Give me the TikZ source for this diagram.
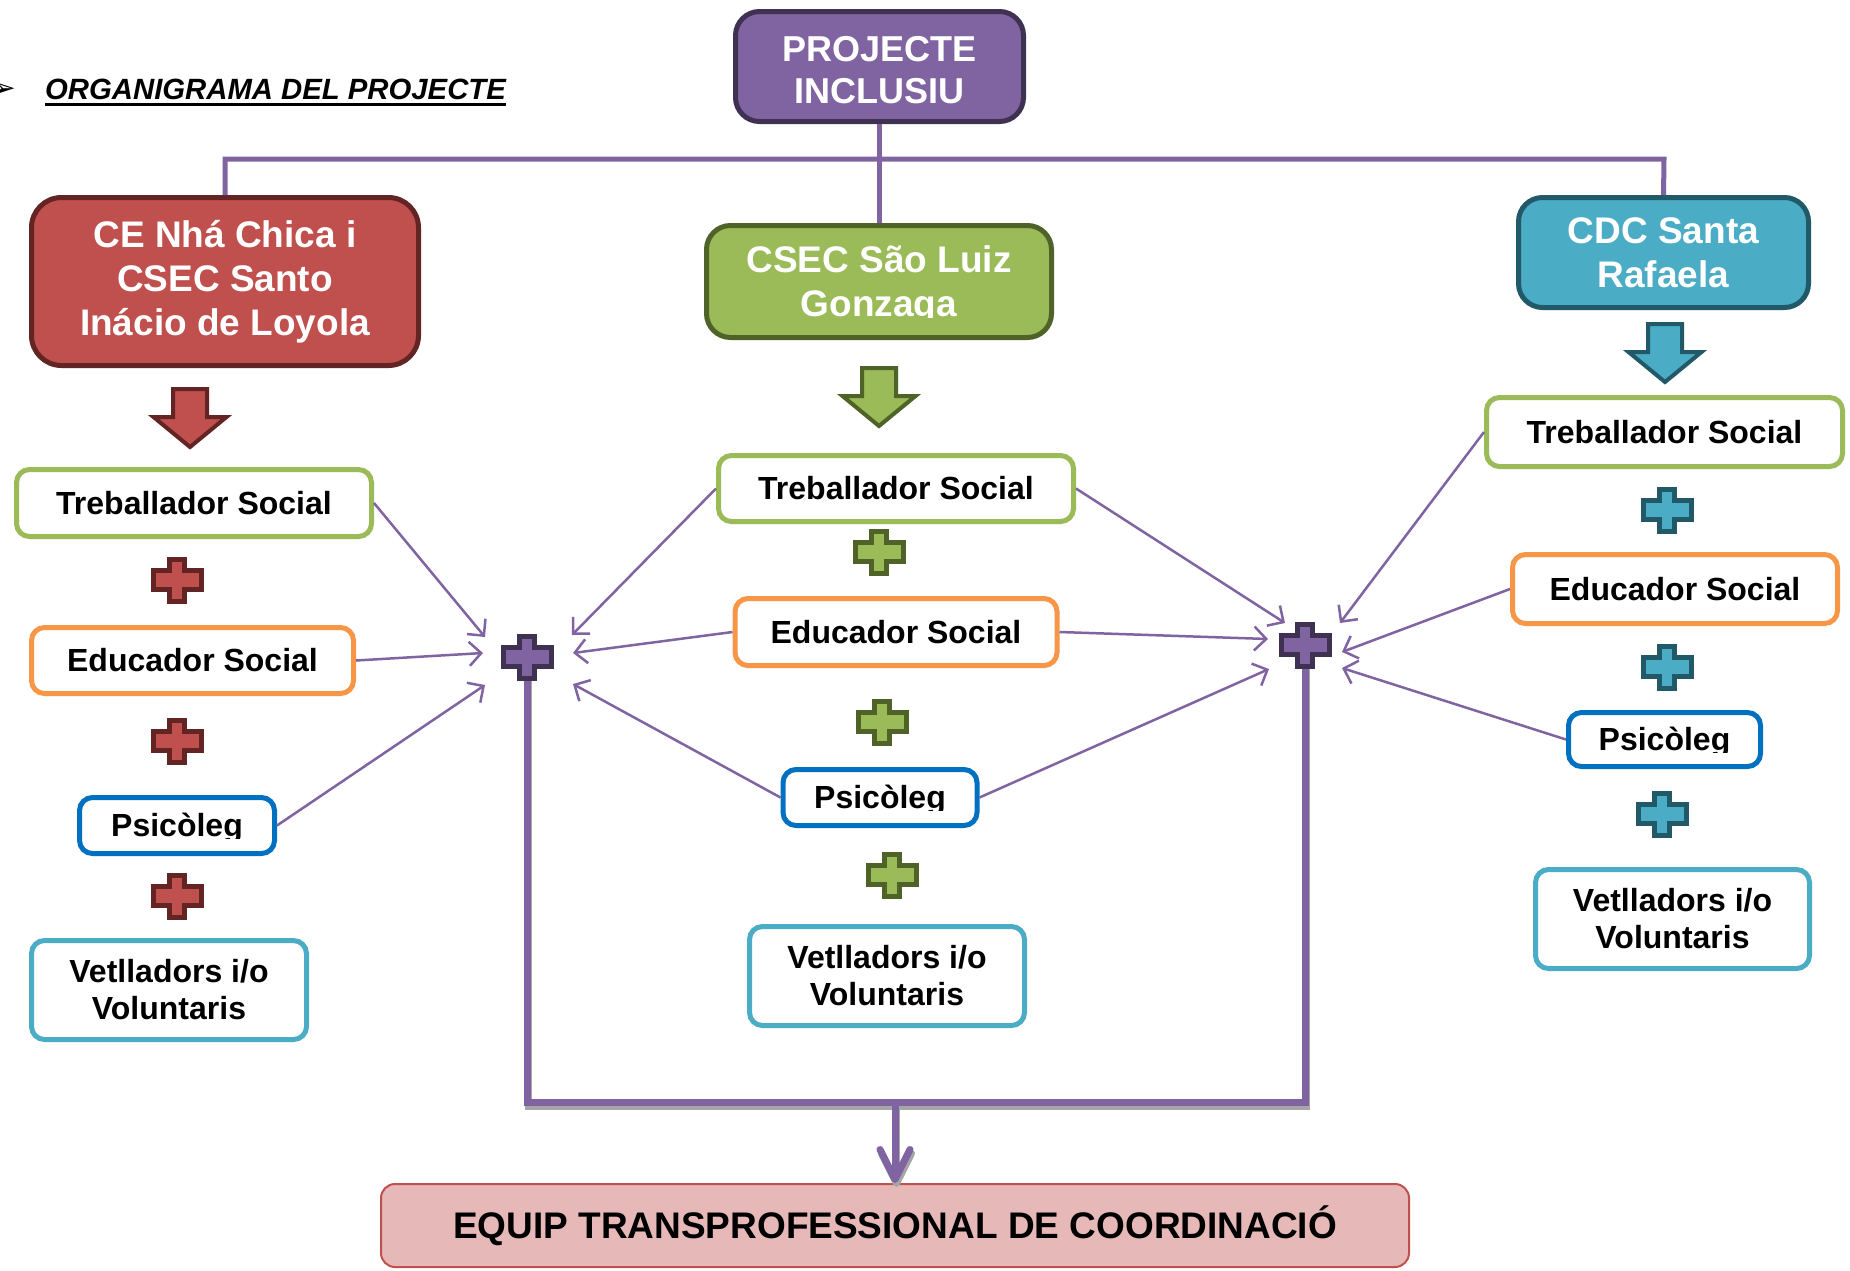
\documentclass[tikz,border=0pt]{standalone}
\usepackage{fontspec}
\setmainfont{Liberation Sans}
\newfontfamily\symfont{DejaVu Sans}
\usepackage{trimclip}
\usetikzlibrary{arrows.meta,calc}
\definecolor{pur}{HTML}{8064A2}
\definecolor{purd}{HTML}{3F3151}
\definecolor{redf}{HTML}{C0504D}
\definecolor{redd}{HTML}{632523}
\definecolor{grnf}{HTML}{9BBB59}
\definecolor{grnd}{HTML}{4F6228}
\definecolor{bluf}{HTML}{4BACC6}
\definecolor{blud}{HTML}{215968}
\definecolor{orng}{HTML}{F79646}
\definecolor{psyb}{HTML}{0070C0}
\definecolor{eqf}{HTML}{E6B9B8}
\definecolor{shad}{HTML}{A6A6A6}
\newcommand\cutdesc[2]{\clipbox{0pt #1 0pt 0pt}{#2}}
\newcommand\crossat[3]{\draw[shift={(#1)}, line width=5pt, fill=#2, draw=#3, line join=miter]
  (-7.5,-21) -- (7.5,-21) -- (7.5,-9.5) -- (24,-9.5) -- (24,9.5) -- (7.5,9.5) -- (7.5,21)
  -- (-7.5,21) -- (-7.5,9.5) -- (-24,9.5) -- (-24,-9.5) -- (-7.5,-9.5) -- cycle;}
\newcommand\blockdown[3]{\draw[shift={(#1)}, line width=4pt, fill=#2, draw=#3, line join=miter]
  (-17,2) -- (17,2) -- (17,30) -- (36.5,30) -- (0,60) -- (-36.5,30) -- (-17,30) -- cycle;}
\tikzset{
  head/.style={rounded corners=24pt, line width=5pt, text=white, align=center, inner sep=0pt,
    font=\fontsize{37}{44}\selectfont\bfseries},
  role/.style={rounded corners=13pt, line width=5pt, fill=white, align=center, inner sep=0pt,
    font=\fontsize{32}{37}\selectfont\bfseries},
  toplink/.style={draw=pur, line width=5pt},
  thinarrow/.style={draw=pur, line width=2.5pt, -{Straight Barb[length=12pt,width=24pt]}},
  bigline/.style={draw=pur, line width=7pt},
  bigshadow/.style={draw=shad, line width=7pt},
  bigtip/.style={-{Straight Barb[length=30pt,width=30pt,round]}},
}
\begin{document}
\begin{tikzpicture}[x=1pt,y=-1pt]
\useasboundingbox (0,0) rectangle (1850,1270);
\fill[white] (0,0) rectangle (1850,1270);

% title
\node[font=\symfont\fontsize{28}{28}\selectfont, anchor=east, inner sep=0pt] (bul) at (16,90) {➢};
\node[font=\fontsize{29.3}{34}\selectfont\bfseries\itshape, anchor=base west, inner sep=0pt] (title) at (45,99) {ORGANIGRAMA DEL PROJECTE};
\draw[line width=3pt] ($(title.base west)+(0,5)$) -- ($(title.base east)+(0,5)$);

% header boxes
\node[head, fill=pur, draw=purd, minimum width=288pt, minimum height=110pt,
  font=\fontsize{36}{42}\selectfont\bfseries] (proj) at (879.5,66.5) {\rule{0pt}{33pt}PROJECTE\\INCLUSIU};
\node[head, fill=redf, draw=redd, minimum width=387pt, minimum height=168pt, rounded corners=30pt] (red) at (225,281.5)
  {CE Nhá Chica i\\CSEC Santo\\Inácio de Loyola};
\node[head, fill=grnf, draw=grnd, minimum width=345pt, minimum height=112pt] (grn) at (879,281.5)
  {CSEC São Luiz\\\cutdesc{6.5pt}{Gonzaga}};
\node[head, fill=bluf, draw=blud, minimum width=290pt, minimum height=110pt] (cdc) at (1663.5,252.5)
  {CDC Santa\\Rafaela};

% top connectors
\coordinate (hR) at (1664,159);
\draw[toplink] (red.north) |- (hR) -- (cdc.north);
\draw[toplink] (proj.south) -- (proj.south |- grn.north);

% block arrows
\coordinate (bkR) at (190,387);
\coordinate (bkG) at (879,366);
\coordinate (bkB) at (1665,322);
\blockdown{bkR}{redf}{redd}
\blockdown{bkG}{grnf}{grnd}
\blockdown{bkB}{bluf}{blud}

% left column
\node[role, draw=grnf, minimum width=355pt, minimum height=67pt] (LT) at (194,503) {Treballador Social};
\node[role, draw=orng, minimum width=322pt, minimum height=66pt] (LE) at (192.5,660.5) {Educador Social};
\node[role, draw=psyb, minimum width=195pt, minimum height=56pt] (LP) at (177,825.5) {\cutdesc{5pt}{Psicòleg}};
\node[role, draw=bluf, minimum width=275pt, minimum height=99pt] (LV) at (169,990) {Vetlladors i/o\\Voluntaris};

% middle column
\node[role, draw=grnf, minimum width=355pt, minimum height=66pt] (MT) at (896,488.5) {Treballador Social};
\node[role, draw=orng, minimum width=322pt, minimum height=67pt] (ME) at (896,632) {Educador Social};
\node[role, draw=psyb, minimum width=194pt, minimum height=56pt] (MP) at (880,797.5) {\cutdesc{5pt}{Psicòleg}};
\node[role, draw=bluf, minimum width=275pt, minimum height=99pt] (MV) at (887,976) {Vetlladors i/o\\Voluntaris};

% right column
\node[role, draw=grnf, minimum width=356pt, minimum height=69pt] (RT) at (1664.5,432) {Treballador Social};
\node[role, draw=orng, minimum width=325pt, minimum height=69pt] (RE) at (1675,589) {Educador Social};
\node[role, draw=psyb, minimum width=192pt, minimum height=54pt] (RP) at (1664.5,739.5) {\cutdesc{5pt}{Psicòleg}};
\node[role, draw=bluf, minimum width=274pt, minimum height=99pt] (RV) at (1672.5,919) {Vetlladors i/o\\Voluntaris};

% small pluses
\coordinate (pL1) at (177,580); \coordinate (pL2) at (177,741); \coordinate (pL3) at (177,896);
\coordinate (pM1) at (879,552); \coordinate (pM2) at (882,722); \coordinate (pM3) at (892,875);
\coordinate (pR1) at (1667,510); \coordinate (pR2) at (1667,667); \coordinate (pR3) at (1662,814);
\crossat{pL1}{redf}{redd}\crossat{pL2}{redf}{redd}\crossat{pL3}{redf}{redd}
\crossat{pM1}{grnf}{grnd}\crossat{pM2}{grnf}{grnd}\crossat{pM3}{grnf}{grnd}
\crossat{pR1}{bluf}{blud}\crossat{pR2}{bluf}{blud}\crossat{pR3}{bluf}{blud}

% hubs and bottom
\coordinate (hubL) at (527,657);
\coordinate (hubR) at (1305,645);
\coordinate (botL) at (527,1102);
\coordinate (botR) at (1305,1102);
\node[draw=redf, line width=2pt, fill=eqf, rounded corners=14pt, minimum width=1028pt, minimum height=83pt,
  inner sep=0pt, font=\fontsize{37}{44}\selectfont\bfseries] (eq) at (895,1225.5)
  {EQUIP TRANSPROFESSIONAL DE COORDINACIÓ};

\begin{scope}[transform canvas={xshift=1.5pt,yshift=-4pt}]
\draw[bigshadow] (hubL) -- (botL) -- (botR) -- (hubR);
\draw[bigshadow, bigtip] (eq.north |- botL) -- (eq.north);
\end{scope}
\draw[bigline] (hubL) -- (botL) -- (botR) -- (hubR);
\draw[bigline, bigtip] (eq.north |- botL) -- (eq.north);

% arrows into hubs
\coordinate (aL1) at (485,637); \coordinate (aL2) at (483,653); \coordinate (aL3) at (485,685);
\coordinate (aL4) at (572,635); \coordinate (aL5) at (573,653); \coordinate (aL6) at (573,684);
\coordinate (aR1) at (1285,623); \coordinate (aR2) at (1268,639); \coordinate (aR3) at (1269,669);
\coordinate (aR4) at (1340,623); \coordinate (aR5) at (1342,652); \coordinate (aR6) at (1342,668);
\draw[thinarrow] (LT.east) -- (aL1);
\draw[thinarrow] (LE.east) -- (aL2);
\draw[thinarrow] (LP.east) -- (aL3);
\draw[thinarrow] (MT.west) -- (aL4);
\draw[thinarrow] (ME.west) -- (aL5);
\draw[thinarrow] (MP.west) -- (aL6);
\draw[thinarrow] (MT.east) -- (aR1);
\draw[thinarrow] (ME.east) -- (aR2);
\draw[thinarrow] (MP.east) -- (aR3);
\draw[thinarrow] (RT.west) -- (aR4);
\draw[thinarrow] (RE.west) -- (aR5);
\draw[thinarrow] (RP.west) -- (aR6);

\crossat{hubL}{pur}{purd}
\crossat{hubR}{pur}{purd}
\end{tikzpicture}
\end{document}
